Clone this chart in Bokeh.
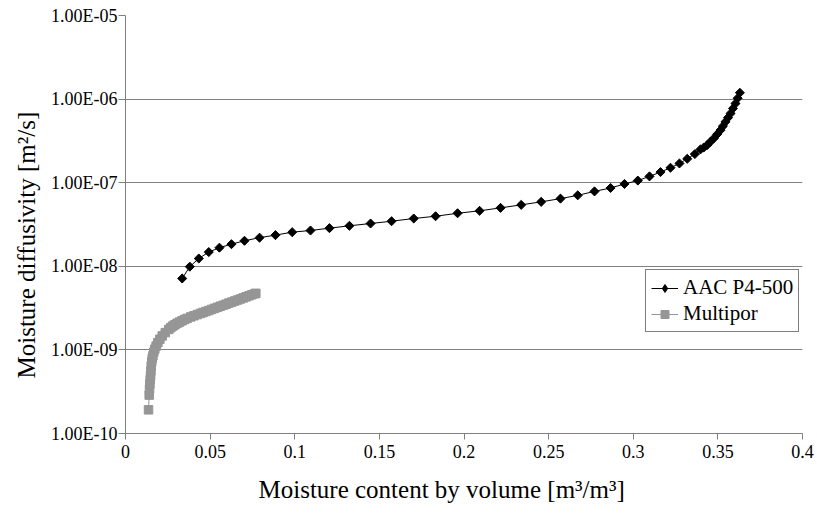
from bokeh.plotting import figure
from bokeh.models import (Range1d, FixedTicker, CustomJSTickFormatter, Legend, LegendItem, Title)
from bokeh.embed import file_html
from bokeh.resources import INLINE

# ---------------- data ----------------
aac_x = [0.0335, 0.0380, 0.0433, 0.0492, 0.0555, 0.0626, 0.0703, 0.0792, 0.0886, 0.0985,
         0.1093, 0.1205, 0.1323, 0.1448, 0.1572, 0.1703, 0.1832, 0.1962, 0.2092, 0.2216,
         0.2338, 0.2456, 0.2570, 0.2672, 0.2771, 0.2866, 0.2948, 0.3027, 0.3096, 0.3161,
         0.3220, 0.3273, 0.3319, 0.3364, 0.3397, 0.3417, 0.3437, 0.3456, 0.3476, 0.3496,
         0.3516, 0.3530, 0.3545, 0.3560, 0.3575, 0.3589, 0.3604, 0.3617, 0.3630]
aac_y = [7.15e-9, 9.9e-9, 1.24e-8, 1.48e-8, 1.67e-8, 1.84e-8, 2.02e-8, 2.20e-8, 2.36e-8, 2.56e-8,
         2.68e-8, 2.86e-8, 3.05e-8, 3.25e-8, 3.46e-8, 3.73e-8, 3.97e-8, 4.31e-8, 4.61e-8, 5.0e-8,
         5.43e-8, 5.9e-8, 6.45e-8, 7.06e-8, 7.87e-8, 8.65e-8, 9.66e-8, 1.06e-7, 1.19e-7, 1.34e-7,
         1.51e-7, 1.70e-7, 1.93e-7, 2.20e-7, 2.50e-7, 2.64e-7, 2.82e-7, 3.09e-7, 3.39e-7, 3.80e-7,
         4.26e-7, 4.75e-7, 5.35e-7, 6.00e-7, 6.74e-7, 7.73e-7, 8.86e-7, 1.025e-6, 1.19e-6]

multipor_x = [0.0136, 0.0140, 0.0142, 0.0144, 0.0146, 0.0148, 0.0150, 0.0152, 0.0155, 0.0158,
              0.0162, 0.0167, 0.0173, 0.0181, 0.0191, 0.0203, 0.0217, 0.0235, 0.0256, 0.0268,
              0.0280, 0.0292, 0.0305, 0.0319, 0.0334, 0.0349, 0.0364, 0.0385, 0.0405, 0.0424,
              0.0443, 0.0458, 0.0475, 0.0492, 0.0509, 0.0526, 0.0543, 0.0560, 0.0577, 0.0594,
              0.0611, 0.0628, 0.0645, 0.0662, 0.0679, 0.0696, 0.0713, 0.0730, 0.0747, 0.0764,
              0.0770]
multipor_y = [1.92e-10, 2.88e-10, 3.40e-10, 3.90e-10, 4.40e-10, 4.90e-10, 5.60e-10, 6.40e-10, 7.20e-10, 7.90e-10,
              8.50e-10, 9.40e-10, 1.02e-9, 1.11e-9, 1.22e-9, 1.34e-9, 1.47e-9, 1.61e-9, 1.76e-9, 1.85e-9,
              1.93e-9, 2.00e-9, 2.08e-9, 2.15e-9, 2.23e-9, 2.31e-9, 2.38e-9, 2.48e-9, 2.56e-9, 2.65e-9,
              2.73e-9, 2.80e-9, 2.88e-9, 2.96e-9, 3.05e-9, 3.14e-9, 3.23e-9, 3.33e-9, 3.42e-9, 3.52e-9,
              3.63e-9, 3.73e-9, 3.84e-9, 3.95e-9, 4.07e-9, 4.19e-9, 4.31e-9, 4.44e-9, 4.57e-9, 4.70e-9,
              4.75e-9]

x_ticks = [0, 0.05, 0.1, 0.15, 0.2, 0.25, 0.3, 0.35, 0.4]
x_tick_labels = ["0", "0.05", "0.1", "0.15", "0.2", "0.25", "0.3", "0.35", "0.4"]
y_ticks = [1e-10, 1e-9, 1e-8, 1e-7, 1e-6, 1e-5]
y_tick_labels = ["1.00E-10", "1.00E-09", "1.00E-08", "1.00E-07", "1.00E-06", "1.00E-05"]

series_names = ["AAC P4-500", "Multipor"]
x_title = "Moisture content by volume [m\u00b3/m\u00b3]"
y_title = "Moisture diffusivity [m\u00b2/s]"

# ---------------- figure ----------------
FONT = "Liberation Serif"
AXIS_GREY = "#808080"

p = figure(width=817, height=515, y_axis_type="log",
           x_range=Range1d(0, 0.4), y_range=Range1d(1e-10, 1e-5),
           output_backend="svg", toolbar_location=None,
           min_border_left=125, min_border_right=15, min_border_top=15, min_border_bottom=80)
p.outline_line_color = None
p.background_fill_color = "white"
p.border_fill_color = "white"

p.xaxis.ticker = FixedTicker(ticks=x_ticks)
p.yaxis.ticker = FixedTicker(ticks=y_ticks)
p.xaxis.formatter = CustomJSTickFormatter(args=dict(vals=x_ticks, labels=x_tick_labels), code="""
for (let i = 0; i < vals.length; i++) { if (Math.abs(vals[i] - tick) < 1e-9) return labels[i]; }
return "";
""")
p.yaxis.formatter = CustomJSTickFormatter(args=dict(vals=y_ticks, labels=y_tick_labels), code="""
for (let i = 0; i < vals.length; i++) { if (Math.abs(Math.log10(vals[i]) - Math.log10(tick)) < 1e-6) return labels[i]; }
return "";
""")

for ax in (p.xaxis, p.yaxis):
    ax.axis_line_color = AXIS_GREY
    ax.major_tick_line_color = AXIS_GREY
    ax.minor_tick_line_color = None
    ax.major_tick_in = 0
    ax.major_label_text_font = FONT
    ax.major_label_text_font_size = "18px"
    ax.major_label_text_color = "black"

p.xaxis.major_tick_out = 6
p.xaxis.major_label_standoff = 5
p.yaxis.major_tick_out = 7
p.yaxis.major_label_standoff = 1

p.xgrid.grid_line_color = None
p.ygrid.grid_line_color = AXIS_GREY
p.ygrid.grid_line_width = 1

# axis titles (placed like the original, which is not centred on the frame)
xt = Title(text=x_title, align="left", offset=133, standoff=26,
           text_font=FONT, text_font_size="25px", text_font_style="normal", text_color="black")
p.add_layout(xt, "below")
yt = Title(text=y_title, align="left", offset=55, standoff=17,
           text_font=FONT, text_font_size="25px", text_font_style="normal", text_color="black")
p.add_layout(yt, "left")

# ---------------- series ----------------
# legend key for AAC: a diamond drawn on the first AAC point (hidden under the real mark)
r_aac_key = p.scatter(aac_x[:1], aac_y[:1], marker="diamond", size=8,
                      fill_color="black", line_color="black")
r_aac_line = p.line(aac_x, aac_y, line_color="black", line_width=1)
r_aac_pts = p.scatter(aac_x, aac_y, marker="square", angle=45, angle_units="deg",
                      size=6.4, fill_color="black", line_color="black")
GREY = "#969696"
r_mp_line = p.line(multipor_x, multipor_y, line_color=GREY, line_width=1)
r_mp_pts = p.scatter(multipor_x, multipor_y, marker="square", size=8.5,
                     fill_color=GREY, line_color=GREY)

legend = Legend(items=[LegendItem(label=series_names[0], renderers=[r_aac_line, r_aac_key]),
                       LegendItem(label=series_names[1], renderers=[r_mp_line, r_mp_pts])],
                location=(520, 101), orientation="vertical")
legend.label_text_font = FONT
legend.label_text_font_size = "21px"
legend.label_text_color = "black"
legend.border_line_color = "black"
legend.border_line_width = 1
legend.background_fill_color = "white"
legend.background_fill_alpha = 1
legend.glyph_width = 27
legend.glyph_height = 20
legend.label_height = 24
legend.label_standoff = 5
legend.spacing = 1
legend.padding = 5
legend.margin = 0
p.add_layout(legend, "center")

open("out.html", "w").write(file_html(p, INLINE))
